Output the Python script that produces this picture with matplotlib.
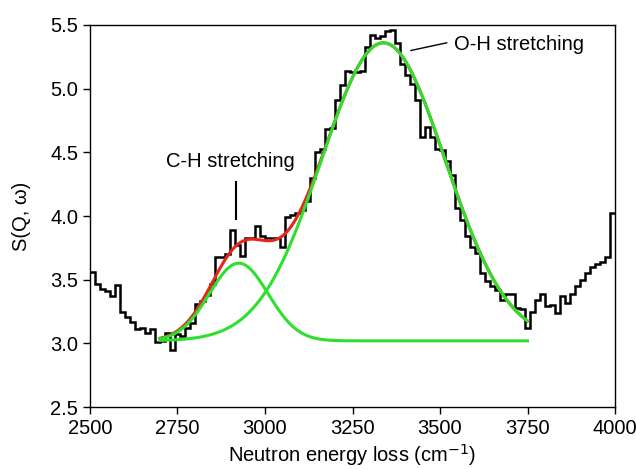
import matplotlib.pyplot as plt
import numpy as np

plt.rcParams['font.family'] = ['Liberation Sans', 'DejaVu Sans']

# measured spectrum, one value per 14.3 cm-1 bin from 2500 to 4000
sqw = [3.56, 3.47, 3.43, 3.41, 3.37, 3.46, 3.25, 3.21, 3.17, 3.11,
       3.12, 3.08, 3.11, 3.01, 3.02, 3.08, 2.95, 3.07, 3.06, 3.12,
       3.16, 3.31, 3.33, 3.38, 3.47, 3.68, 3.68, 3.70, 3.89, 3.77,
       3.69, 3.83, 3.83, 3.92, 3.84, 3.83, 3.83, 3.83, 3.76, 3.99,
       4.01, 4.02, 4.05, 4.12, 4.30, 4.50, 4.53, 4.68, 4.69, 4.91,
       5.03, 5.14, 5.13, 5.13, 5.14, 5.33, 5.42, 5.40, 5.41, 5.45,
       5.46, 5.36, 5.19, 5.11, 5.04, 4.91, 4.62, 4.70, 4.62, 4.53,
       4.52, 4.43, 4.32, 4.06, 3.97, 3.84, 3.76, 3.71, 3.55, 3.49,
       3.45, 3.42, 3.34, 3.39, 3.39, 3.28, 3.27, 3.12, 3.25, 3.34,
       3.39, 3.29, 3.30, 3.24, 3.37, 3.32, 3.39, 3.45, 3.50, 3.55,
       3.60, 3.62, 3.64, 3.68, 4.02]
edges = np.linspace(2500, 4000, len(sqw) + 1)

# gaussian fit parameters
baseline = 3.02
ch_center, ch_height, ch_sigma = 2925, 0.61, 84
oh_center, oh_height, oh_sigma = 3338, 2.34, 177
fit_start, fit_end = 2700, 3750

e = np.linspace(fit_start, fit_end, 400)
ch = baseline + ch_height * np.exp(-(e - ch_center)**2 / (2 * ch_sigma**2))
oh = baseline + oh_height * np.exp(-(e - oh_center)**2 / (2 * oh_sigma**2))
total = ch + oh - baseline

fig = plt.figure(figsize=(6.36, 4.69), dpi=100)
ax = fig.add_axes([0.1415, 0.132, 0.8255, 0.8147])

ax.stairs(sqw, edges, baseline=None, color='black', lw=1.8)
ax.plot(e, total, color='#e8261c', lw=2.2)
ax.plot(e, ch, color='#2ee02e', lw=2.2)
ax.plot(e, oh, color='#2ee02e', lw=2.2)

ax.plot([2917, 2917], [3.98, 4.27], color='black', lw=1.5)
ax.text(2900, 4.425, 'C-H stretching', ha='center', va='center', fontsize=14.5)
ax.plot([3417, 3519], [5.30, 5.36], color='black', lw=1.0)
ax.text(3540, 5.35, 'O-H stretching', ha='left', va='center', fontsize=14.5)

ax.set_xlim(2500, 4000)
ax.set_ylim(2.5, 5.5)
ax.set_xticks([2500, 2750, 3000, 3250, 3500, 3750, 4000])
ax.set_yticks([2.5, 3.0, 3.5, 4.0, 4.5, 5.0, 5.5])
ax.set_yticklabels(['2.5', '3.0', '3.5', '4.0', '4.5', '5.0', '5.5'])
ax.tick_params(direction='out', length=5, width=1, labelsize=14.5)
for s in ax.spines.values():
    s.set_linewidth(1.0)

ax.set_xlabel('Neutron energy loss (cm$^{-1}$)', fontsize=14.5, labelpad=3)
ax.set_ylabel('S(Q, \u03c9)', fontsize=14.5, labelpad=14)

fig.savefig('out.png', dpi=100)
